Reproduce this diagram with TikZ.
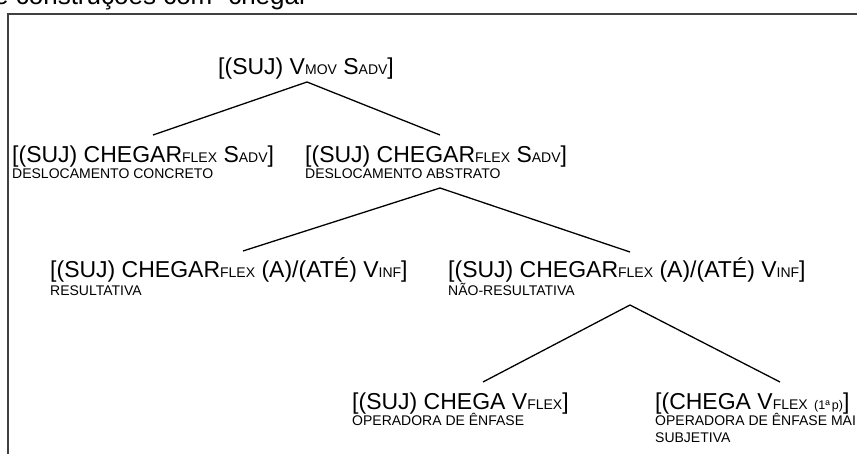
\documentclass[tikz,border=0pt]{standalone}
\usepackage{fontspec}
\setmainfont{Liberation Sans}
\newcommand{\smc}[1]{{\fontsize{14}{14}\selectfont #1}}
\newcommand{\tinyc}[1]{{\fontsize{12.5}{12.5}\selectfont #1}}
\begin{document}
\begin{tikzpicture}[x=1pt,y=-1pt,
  big/.style={anchor=base west, inner sep=0pt, font=\fontsize{23}{23}\selectfont},
  lab/.style={anchor=base west, inner sep=0pt, font=\fontsize{14}{14}\selectfont},
  branch/.style={line width=1.3pt, black},
  frame/.style={line width=1.5pt, black!75}]
\useasboundingbox (0,0) rectangle (857,454);
\begin{scope}
\clip (0,0) rectangle (857,454);
\node[anchor=base west, inner sep=0pt, font=\fontsize{26}{26}\selectfont] (title) at (-6,5) {e construções com “chegar”};
\end{scope}
\draw[frame] (8,454) -- (8,14) -- (857,14);

% nodes
\node[big] (n1) at (218,75) {[(SUJ) V\smc{MOV} S\smc{ADV}]};

\node[big] (n2) at (12,163) {[(SUJ) CHEGAR\smc{FLEX} S\smc{ADV}]};
\node[lab] (l2) at (12,179) {DESLOCAMENTO CONCRETO};

\node[big] (n3) at (305,163) {[(SUJ) CHEGAR\smc{FLEX} S\smc{ADV}]};
\node[lab] (l3) at (305,179) {DESLOCAMENTO ABSTRATO};

\node[big] (n4) at (50,278) {[(SUJ) CHEGAR\smc{FLEX} (A)/(ATÉ) V\smc{INF}]};
\node[lab] (l4) at (50,296) {RESULTATIVA};

\node[big] (n5) at (448,278) {[(SUJ) CHEGAR\smc{FLEX} (A)/(ATÉ) V\smc{INF}]};
\node[lab] (l5) at (448,296) {NÃO-RESULTATIVA};

\node[big] (n6) at (352,409) {[(SUJ) CHEGA V\smc{FLEX}]};
\node[lab] (l6) at (352,425) {OPERADORA DE ÊNFASE};

\node[big] (n7) at (655,409) {[(CHEGA V\smc{FLEX} \tinyc{(1ª\,p)}]};
\node[lab] (l7) at (655,425) {OPERADORA DE ÊNFASE MAI};
\node[lab] (l7b) at (655,442) {SUBJETIVA};

% branch points
\coordinate (c1) at (307,82);
\coordinate (e2) at (153,135);
\coordinate (e3) at (440,135);
\coordinate (c3) at (440,188);
\coordinate (e4) at (243,251);
\coordinate (e5) at (630,252);
\coordinate (c5) at (630,305);
\coordinate (e6) at (483,382);
\coordinate (e7) at (780,382);

\draw[branch] (e2) -- (c1) -- (e3);
\draw[branch] (e4) -- (c3) -- (e5);
\draw[branch] (e6) -- (c5) -- (e7);
\end{tikzpicture}
\end{document}
